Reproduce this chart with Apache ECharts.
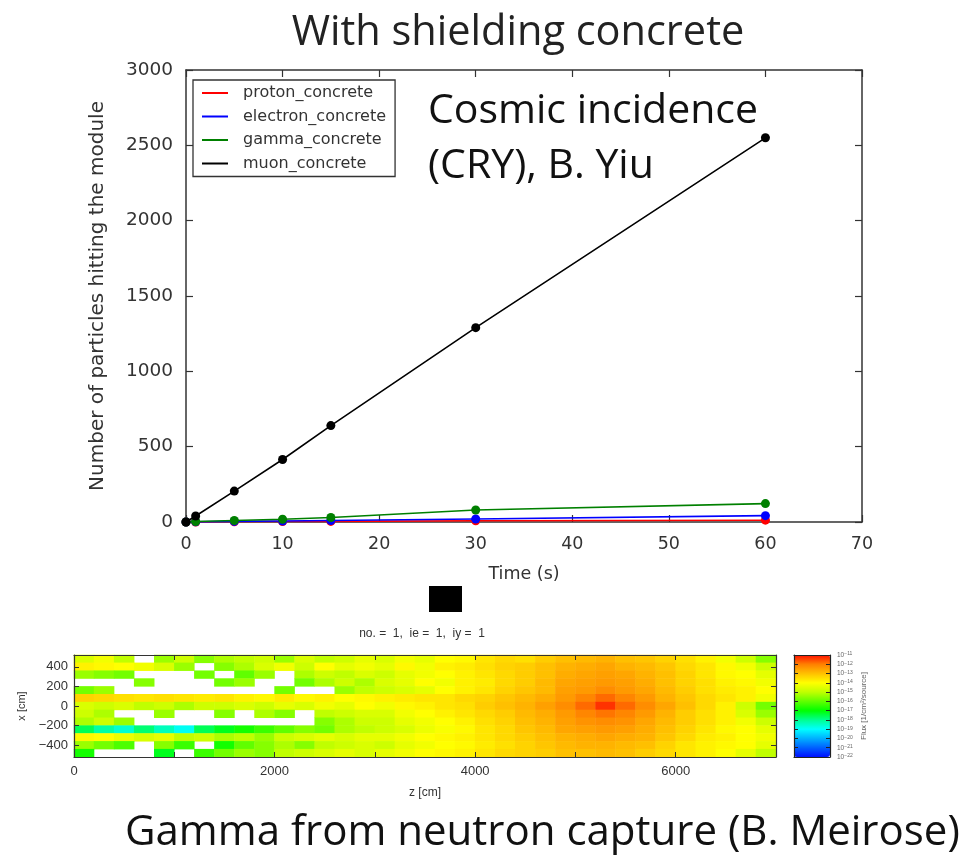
<!DOCTYPE html>
<html>
<head>
<meta charset="utf-8">
<title>With shielding concrete</title>
<script src="https://cdn.jsdelivr.net/npm/echarts@6/dist/echarts.min.js"></script>
<style>
html, body { margin: 0; padding: 0; background: #fff; }
#chart { width: 961px; height: 857px; }
</style>
</head>
<body>
<div id="chart"></div>
<script>
// ---- top plot: particles hitting the module vs time ----
const timeSec = [0, 1, 5, 10, 15, 30, 60];
const protonCounts = [0, 0, 2, 3, 4, 8, 12];
const electronCounts = [0, 1, 4, 7, 10, 20, 42];
const gammaCounts = [0, 3, 10, 18, 30, 80, 122];
const muonCounts = [0, 40, 205, 415, 640, 1290, 2550];
const seriesNames = ['proton_concrete', 'electron_concrete', 'gamma_concrete', 'muon_concrete'];
const seriesColors = ['#ff0000', '#0000ff', '#008000', '#000000'];
const seriesValues = [protonCounts, electronCounts, gammaCounts, muonCounts];

// ---- bottom plot: gamma flux map, log10(flux), null = empty cell ----
const zBinCenters = [100, 300, 500, 700, 900, 1100, 1300, 1500, 1700, 1900, 2100, 2300, 2500, 2700, 2900,
  3100, 3300, 3500, 3700, 3900, 4100, 4300, 4500, 4700, 4900, 5100, 5300, 5500, 5700, 5900,
  6100, 6300, 6500, 6700, 6900];
const xBinCenters = [480, 400, 320, 240, 160, 80, 0, -80, -160, -240, -320, -400, -480];
const fluxRows = [
  [-14.6, -14.2, -15.0, null, -15.4, -14.8, -15.6, -15.2, -15.0, -14.8, -15.4, -14.6, -15.0, -14.8, -14.4, -14.6, -14.2, -14.4, -14.0, -13.9, -13.6, -13.4, -13.5, -13.2, -13.0, -12.9, -12.8, -13.0, -13.1, -13.3, -13.5, -13.8, -14.2, -14.8, -15.6],
  [-13.8, -13.9, -14.0, -14.2, -14.6, -15.4, null, -15.6, -15.2, -14.6, -14.2, -14.8, -14.0, -14.4, -14.2, -14.4, -13.9, -14.2, -13.8, -13.7, -13.5, -13.3, -13.2, -13.0, -12.8, -12.7, -12.6, -12.8, -12.9, -13.1, -13.4, -13.6, -13.9, -14.2, -14.8],
  [-15.4, -15.6, -15.8, null, null, null, -15.8, null, -16.0, -15.4, null, -15.2, -14.8, -15.0, -14.6, -14.8, -14.4, -14.2, -14.0, -13.8, -13.6, -13.4, -13.2, -13.0, -12.7, -12.6, -12.5, -12.6, -12.8, -13.0, -13.3, -13.6, -13.9, -14.0, -14.4],
  [null, null, null, -15.6, null, null, null, -15.8, -15.4, null, null, -15.8, -15.2, -14.8, -15.2, -14.6, -14.4, -14.0, -14.2, -13.8, -13.7, -13.4, -13.2, -12.9, -12.6, -12.5, -12.4, -12.5, -12.7, -13.0, -13.3, -13.5, -13.8, -13.9, -14.2],
  [-15.8, -15.4, null, null, null, null, null, null, null, null, -15.8, null, null, -15.4, -15.0, -14.8, -14.6, -14.4, -14.0, -13.8, -13.6, -13.3, -13.1, -12.9, -12.5, -12.4, -12.2, -12.4, -12.6, -12.9, -13.2, -13.5, -13.7, -13.8, -14.0],
  [-13.3, -13.4, -13.5, -13.6, -13.5, -13.6, -13.7, -13.6, -13.8, -13.9, -13.7, -13.9, -13.8, -14.0, -13.9, -13.8, -13.7, -13.6, -13.6, -13.4, -13.3, -13.1, -12.9, -12.7, -12.4, -12.1, -11.8, -12.1, -12.4, -12.8, -13.1, -13.4, -13.6, -13.8, -14.2],
  [-14.6, -14.8, -14.6, -15.0, -14.8, -15.2, -14.8, -14.8, -14.6, -14.8, -14.4, -14.6, -14.2, -14.4, -14.0, -14.2, -13.9, -13.8, -13.6, -13.5, -13.2, -13.0, -12.8, -12.5, -12.2, -11.8, -11.3, -11.8, -12.2, -12.6, -13.0, -13.4, -13.8, -14.8, -15.8],
  [-14.8, -15.2, null, null, -15.4, null, null, -15.6, null, -15.2, -15.6, null, -15.0, -14.8, -14.6, -14.6, -14.2, -14.0, -13.8, -13.6, -13.4, -13.2, -12.9, -12.7, -12.4, -12.1, -11.9, -12.1, -12.4, -12.8, -13.2, -13.5, -13.8, -14.6, -15.4],
  [-15.2, -14.8, -15.4, null, null, null, null, null, null, null, null, null, -15.6, -15.2, -14.8, -14.8, -14.4, -14.2, -14.0, -13.8, -13.5, -13.3, -13.0, -12.8, -12.5, -12.3, -12.2, -12.3, -12.6, -12.9, -13.2, -13.5, -13.8, -14.2, -14.8],
  [-17.6, -18.2, -18.6, -17.8, -18.4, -18.9, -17.6, -17.2, -16.8, -16.4, -16.0, -15.6, -15.8, -15.2, -15.0, -14.8, -14.6, -14.3, -14.1, -13.9, -13.6, -13.4, -13.1, -12.9, -12.6, -12.5, -12.4, -12.5, -12.7, -13.0, -13.3, -13.6, -13.9, -14.0, -14.4],
  [-13.9, -14.0, -14.3, -14.6, -14.4, -15.0, -14.8, -15.2, -15.0, -15.4, -14.8, -14.6, -14.4, -14.6, -14.4, -14.4, -14.2, -14.0, -13.9, -13.8, -13.6, -13.4, -13.2, -13.0, -12.8, -12.7, -12.6, -12.7, -12.8, -13.1, -13.4, -13.7, -13.8, -14.0, -14.2],
  [-15.4, -15.8, -16.2, null, -15.6, -16.4, null, -16.8, -16.0, -15.6, -15.2, -15.6, -15.0, -14.8, -14.6, -14.8, -14.4, -14.2, -14.0, -13.9, -13.7, -13.5, -13.3, -13.1, -12.9, -12.8, -12.8, -12.9, -13.0, -13.3, -13.6, -13.8, -13.9, -14.0, -14.4],
  [-16.8, null, null, null, -17.2, null, -16.4, -15.8, -15.4, -15.6, -15.0, -14.8, -14.6, -14.4, -14.6, -14.4, -14.2, -14.0, -13.9, -13.8, -13.6, -13.4, -13.3, -13.2, -13.0, -13.0, -12.9, -13.0, -13.2, -13.4, -13.6, -13.8, -14.0, -14.4, -15.0]
];
const zLabelTicks = [0, 2000, 4000, 6000];
const zMinorTicks = [1000, 2000, 3000, 4000, 5000, 6000];
const xLabelTicks = [-400, -200, 0, 200, 400];
const fluxColors = ['#0010ff', '#0060ff', '#00b0ff', '#00ffff', '#00ff90', '#00ff00',
  '#60ff00', '#c0ff00', '#ffff00', '#ffc000', '#ff8000', '#ff1000'];

const heatData = [];
fluxRows.forEach((row, r) => row.forEach((v, c) => {
  if (v !== null) heatData.push([c, r, v]);
}));

const frame = { onZero: false, lineStyle: { color: '#333', width: 1.5 } };
const tickIn = { inside: true, length: 7, lineStyle: { color: '#333', width: 1.2 } };
const mplLabel = { fontFamily: 'DejaVu Sans', fontSize: 17.5, color: '#333' };
const smallLabel = { fontFamily: 'Liberation Sans', fontSize: 13, color: '#333' };
const thinFrame = { onZero: false, lineStyle: { color: '#333', width: 1.2 } };
const plain = v => String(v);
const minus = v => String(v).replace('-', '\u2212');

const chart = echarts.init(document.getElementById('chart'));
chart.setOption({
  animation: false,
  backgroundColor: '#fff',
  grid: [
    { left: 186, top: 70, width: 676, height: 452 },
    { left: 74, top: 655, width: 702, height: 102 },
    { left: 74, top: 655, width: 702, height: 102 },
    { left: 794, top: 655, width: 36, height: 102 }
  ],
  legend: {
    data: seriesNames,
    left: 193, top: 80, orient: 'vertical',
    backgroundColor: '#fff', borderColor: '#333', borderWidth: 1.3,
    padding: [5, 9, 5, 9],
    itemWidth: 26, itemHeight: 2, itemGap: 7.5, icon: 'rect',
    textStyle: { fontFamily: 'DejaVu Sans', fontSize: 16, color: '#333', lineHeight: 16, padding: [0, 0, 0, 10] }
  },
  xAxis: [
    {
      gridIndex: 0, type: 'value', min: 0, max: 70, interval: 10, position: 'bottom',
      axisLine: frame, axisTick: tickIn, splitLine: { show: false },
      axisLabel: Object.assign({ margin: 13, formatter: plain }, mplLabel),
      name: 'Time (s)', nameLocation: 'middle', nameGap: 43, nameTextStyle: mplLabel
    },
    {
      gridIndex: 0, type: 'value', min: 0, max: 70, interval: 10, position: 'top',
      axisLine: frame, axisTick: tickIn, splitLine: { show: false }, axisLabel: { show: false }
    },
    { gridIndex: 1, type: 'category', data: zBinCenters, show: false },
    {
      gridIndex: 2, type: 'value', min: 0, max: 7000, position: 'bottom', z: 5,
      axisLine: thinFrame,
      axisTick: { inside: true, length: 5, customValues: zMinorTicks, lineStyle: { color: '#333' } },
      axisLabel: Object.assign({ customValues: zLabelTicks, margin: 8, formatter: plain }, smallLabel),
      splitLine: { show: false },
      name: 'z [cm]', nameLocation: 'middle', nameGap: 30,
      nameTextStyle: { fontFamily: 'Liberation Sans', fontSize: 12, color: '#333' }
    },
    {
      gridIndex: 2, type: 'value', min: 0, max: 7000, position: 'top', z: 5,
      axisLine: thinFrame,
      axisTick: { inside: true, length: 5, customValues: zMinorTicks, lineStyle: { color: '#333' } },
      axisLabel: { show: false }, splitLine: { show: false }
    },
    {
      gridIndex: 3, type: 'value', min: 0, max: 1, position: 'bottom', z: 10,
      axisLine: { onZero: false, lineStyle: { color: '#222', width: 1.2 } },
      axisTick: { show: false }, axisLabel: { show: false }, splitLine: { show: false }
    },
    {
      gridIndex: 3, type: 'value', min: 0, max: 1, position: 'top', z: 10,
      axisLine: { onZero: false, lineStyle: { color: '#222', width: 1.2 } },
      axisTick: { show: false }, axisLabel: { show: false }, splitLine: { show: false }
    }
  ],
  yAxis: [
    {
      gridIndex: 0, type: 'value', min: 0, max: 3000, interval: 500, position: 'left',
      axisLine: frame, axisTick: tickIn, splitLine: { show: false },
      axisLabel: Object.assign({ margin: 13, formatter: plain }, mplLabel, { fontSize: 18.5 }),
      name: 'Number of particles hitting the module', nameLocation: 'middle', nameGap: 78,
      nameTextStyle: Object.assign({}, mplLabel, { fontSize: 20 })
    },
    {
      gridIndex: 0, type: 'value', min: 0, max: 3000, interval: 500, position: 'right',
      axisLine: frame, axisTick: tickIn, splitLine: { show: false }, axisLabel: { show: false }
    },
    { gridIndex: 1, type: 'category', data: xBinCenters, inverse: true, show: false },
    {
      gridIndex: 2, type: 'value', min: -520, max: 520, position: 'left', z: 5,
      axisLine: thinFrame,
      axisTick: { inside: true, length: 5, customValues: xLabelTicks, lineStyle: { color: '#333' } },
      axisLabel: Object.assign({ customValues: xLabelTicks, margin: 6, formatter: minus }, smallLabel),
      splitLine: { show: false },
      name: 'x [cm]', nameLocation: 'middle', nameGap: 36,
      nameTextStyle: { fontFamily: 'Liberation Sans', fontSize: 11, color: '#333' }
    },
    {
      gridIndex: 2, type: 'value', min: -520, max: 520, position: 'right', z: 5,
      axisLine: thinFrame,
      axisTick: { inside: true, length: 5, customValues: xLabelTicks, lineStyle: { color: '#333' } },
      axisLabel: { show: false }, splitLine: { show: false }
    },
    {
      gridIndex: 3, type: 'value', min: -22, max: -11, interval: 1, position: 'left', z: 10,
      axisLine: { onZero: false, lineStyle: { color: '#222', width: 1.2 } },
      axisTick: { inside: true, length: 4, lineStyle: { color: '#222' } },
      axisLabel: { show: false }, splitLine: { show: false }
    },
    {
      gridIndex: 3, type: 'value', min: -22, max: -11, interval: 1, position: 'right', z: 10,
      axisLine: { onZero: false, lineStyle: { color: '#222', width: 1.2 } },
      axisTick: { inside: true, length: 4, lineStyle: { color: '#222' } },
      axisLabel: {
        margin: 7, color: '#666', fontFamily: 'Liberation Sans',
        formatter: v => '{b|10}{s|' + minus(v) + '}',
        rich: { b: { fontSize: 6.5, color: '#666' }, s: { fontSize: 5, color: '#666', verticalAlign: 'top' } }
      },
      splitLine: { show: false },
      name: 'Flux [1/cm\u00b2/source]', nameLocation: 'middle', nameGap: 30,
      nameTextStyle: { fontFamily: 'Liberation Sans', fontSize: 8, color: '#666' }
    }
  ],
  visualMap: {
    type: 'continuous', min: -22, max: -11, seriesIndex: 4,
    calculable: false, orient: 'vertical', left: 794, top: 655, padding: 0,
    itemWidth: 36, itemHeight: 102,
    inRange: { color: fluxColors }
  },
  series: seriesNames.map((name, i) => ({
    name: name, type: 'line', xAxisIndex: 0, yAxisIndex: 0,
    data: timeSec.map((t, k) => [t, seriesValues[i][k]]),
    color: seriesColors[i], z: 2 + i,
    symbol: 'circle', symbolSize: 9, showSymbol: true,
    lineStyle: { width: 1.6, color: seriesColors[i] },
    itemStyle: { color: seriesColors[i] }
  })).concat([{
    type: 'heatmap', xAxisIndex: 2, yAxisIndex: 2, data: heatData
  }]),
  graphic: [
    { type: 'text', x: 518, y: 12, style: { text: 'With shielding concrete', font: '41.5px "Open Sans"', fill: '#222', textAlign: 'center' } },
    { type: 'text', x: 428, y: 91, style: { text: 'Cosmic incidence', font: '41px "Open Sans"', fill: '#111' } },
    { type: 'text', x: 428, y: 146, style: { text: '(CRY), B. Yiu', font: '41px "Open Sans"', fill: '#111' } },
    { type: 'rect', shape: { x: 429, y: 586, width: 33, height: 26 }, style: { fill: '#000' } },
    { type: 'text', x: 422, y: 634, style: { text: 'no. =  1,  ie =  1,  iy =  1', font: '12px "Liberation Sans"', fill: '#333', textAlign: 'center', textVerticalAlign: 'middle' } },
    { type: 'text', x: 125, y: 812, style: { text: 'Gamma from neutron capture (B. Meirose)', font: '42px "Open Sans"', fill: '#111' } }
  ]
});
</script>
</body>
</html>
